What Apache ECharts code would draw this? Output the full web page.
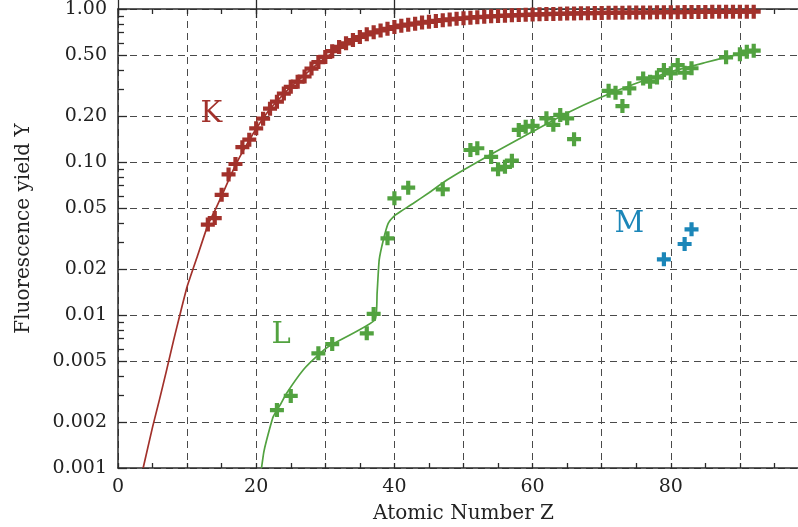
<!DOCTYPE html>
<html>
<head>
<meta charset="utf-8">
<script src="https://cdn.jsdelivr.net/npm/echarts@6/dist/echarts.min.js"></script>
<style>html,body{margin:0;padding:0;background:#fff}#c{width:798px;height:527px}</style>
</head>
<body>
<div id="c"></div>
<script>
// ---- data ----
const kZ = [13,14,15,16,17,18,19,20,21,22,23,24,25,26,27,28,29,30,31,32,33,34,35,36,37,38,39,40,41,42,43,44,45,46,47,48,49,50,51,52,53,54,55,56,57,58,59,60,61,62,63,64,65,66,67,68,69,70,71,72,73,74,75,76,77,78,79,80,81,82,83,84,85,86,87,88,89,90,91,92];
const kY = [0.039,0.043,0.061,0.083,0.097,0.125,0.140,0.166,0.192,0.223,0.248,0.280,0.310,0.335,0.362,0.408,0.450,0.486,0.530,0.565,0.597,0.627,0.656,0.683,0.704,0.724,0.742,0.762,0.778,0.790,0.802,0.815,0.825,0.836,0.845,0.855,0.863,0.870,0.877,0.884,0.890,0.895,0.900,0.905,0.909,0.913,0.916,0.920,0.923,0.926,0.929,0.931,0.933,0.935,0.937,0.939,0.941,0.942,0.944,0.945,0.946,0.947,0.948,0.949,0.950,0.951,0.952,0.953,0.954,0.955,0.956,0.957,0.957,0.958,0.958,0.959,0.959,0.960,0.960,0.961];
const kLineZ = [3.64,5,6,7,8.07,9,10,11.5,13,14,15,16,17,18,20,22,25,30,35,40,45,50,60,70,80,92];
const kLineY = [0.001,0.00185,0.0028,0.0043,0.0069,0.0102,0.0153,0.0243,0.0387,0.048,0.060,0.076,0.095,0.116,0.165,0.222,0.31,0.48,0.645,0.76,0.825,0.87,0.92,0.944,0.955,0.962];

const lZ = [23,25,29,31,36,37,39,40,42,47,51,52,54,55,56,57,58,59,60,62,63,64,65,66,71,72,73,74,76,77,78,79,80,81,82,83,88,90,91,92];
const lY = [0.00239,0.00296,0.00562,0.00646,0.00759,0.01016,0.0317,0.0579,0.0679,0.0663,0.1198,0.123,0.108,0.0896,0.093,0.102,0.162,0.170,0.172,0.193,0.175,0.203,0.193,0.141,0.292,0.284,0.232,0.303,0.352,0.335,0.357,0.399,0.38,0.43,0.383,0.41,0.483,0.506,0.526,0.534];
const lLineZ = [20.77,21.1,21.5,22.45,23.5,24.4,26.8,29.0,30.7,37.2,37.5,37.8,38.4,39.1,40.0,41,42.7,45,47.6,50,53.8,60,65,70,75,80,85,88,92.4];
const lLineY = [0.001,0.00127,0.00152,0.00216,0.0026,0.00308,0.00437,0.00548,0.00631,0.0093,0.014,0.0229,0.0309,0.0397,0.0445,0.0478,0.0535,0.063,0.0762,0.0887,0.111,0.158,0.209,0.266,0.327,0.389,0.447,0.484,0.54];

const mZ = [79,82,83];
const mY = [0.0231,0.0291,0.0363];

const yTicks = [0.001,0.002,0.005,0.01,0.02,0.05,0.1,0.2,0.5,1.0];
const yTickLabels = ['0.001','0.002','0.005','0.01','0.02','0.05','0.10','0.20','0.50','1.00'];
const yMinorTicks = [0.003,0.004,0.006,0.007,0.008,0.009,0.03,0.04,0.06,0.07,0.08,0.09,0.3,0.4,0.6,0.7,0.8,0.9];
const xLabelValues = [0,20,40,60,80];

const curveLabels = [
  {text:'K', z:13.5, y:0.203, color:'#A2312B'},
  {text:'L', z:23.6, y:0.0073, color:'#52A240'},
  {text:'M', z:74.0, y:0.0393, color:'#1B86B8'}
];

// ---- helpers ----
const lg = v => Math.log10(v);
const pts = (zs, ys) => zs.map((z,i)=>[z, lg(ys[i])]);
const PLUS = 'path://M35,0H65V35H100V65H65V100H35V65H0V35H35Z';
const FONT = 'DejaVu Serif';
const AX = '#2a2a2a';
const GRIDC = '#4a4a4a';
const KC = '#A2312B', LC = '#52A240', MC = '#1B86B8';

const chart = echarts.init(document.getElementById('c'), null, {renderer:'canvas'});

function xAx(pos, interval, tickLen, opts) {
  return Object.assign({
    type:'value', min:0, max:100, interval:interval, position:pos, gridIndex:0,
    axisLine:{show:true, onZero:false, lineStyle:{color:AX, width:1.5}},
    axisTick:{show:true, inside:true, length:tickLen, lineStyle:{color:AX, width:1.3}},
    axisLabel:{show:false},
    splitLine:{show:false}
  }, opts||{});
}

const option = {
  animation:false,
  backgroundColor:'#fff',
  grid:{left:118, right:-11, top:9, bottom:59, containLabel:false, outerBoundsMode:'none'},
  xAxis:[
    xAx('bottom', 10, 5, {
      minorTick:{show:true, splitNumber:2, length:5, lineStyle:{color:AX, width:1.3}},
      splitLine:{show:true, lineStyle:{color:GRIDC, width:1, type:[7,5]}},
      axisLabel:{show:true, margin:10, fontFamily:FONT, fontSize:19, color:'#222',
        formatter:v => xLabelValues.indexOf(v) >= 0 ? String(v) : ''},
      name:'Atomic Number Z', nameLocation:'middle', nameGap:36,
      nameTextStyle:{fontFamily:FONT, fontSize:20, color:'#222'}
    }),
    xAx('bottom', 20, 9, {axisLine:{show:false}}),
    xAx('top', 10, 5, {
      minorTick:{show:true, splitNumber:2, length:5, lineStyle:{color:AX, width:1.3}}
    }),
    xAx('top', 20, 9, {axisLine:{show:false}})
  ],
  yAxis:[
    {
      type:'value', min:-3, max:0, position:'left',
      axisLine:{show:true, onZero:false, lineStyle:{color:AX, width:1.5}},
      axisTick:{show:true, inside:true, length:9, customValues:yTicks.map(lg), lineStyle:{color:AX, width:1.3}},
      axisLabel:{show:true, margin:11, fontFamily:FONT, fontSize:19, color:'#222',
        customValues:yTicks.map(lg),
        formatter:v => {
          let best = 0, bd = 1e9;
          yTicks.forEach((t,i)=>{ const d = Math.abs(lg(t)-v); if (d<bd){bd=d;best=i;} });
          return yTickLabels[best];
        }},
      splitLine:{show:true, lineStyle:{color:GRIDC, width:1, type:[7,5]}},
      name:'Fluorescence yield Y', nameLocation:'middle', nameGap:84,
      nameTextStyle:{fontFamily:FONT, fontSize:20, color:'#222', padding:[0,0,0,20]}
    },
    {
      type:'value', min:-3, max:0, position:'left', offset:0,
      axisLine:{show:false},
      axisTick:{show:true, inside:true, length:6, customValues:yMinorTicks.map(lg), lineStyle:{color:AX, width:1.3}},
      axisLabel:{show:false},
      splitLine:{show:false}
    }
  ],
  series:[
    {type:'line', name:'K fit', data:pts(kLineZ,kLineY), showSymbol:false, smooth:0.15,
     lineStyle:{color:KC, width:1.7}, z:2, silent:true,
     markPoint:{symbol:'circle', symbolSize:0, silent:true,
       data:curveLabels.map(c=>({coord:[c.z, lg(c.y)], label:{show:true, formatter:c.text, color:c.color, fontFamily:FONT, fontSize:29, position:'inside'}}))}},
    {type:'line', name:'L fit', data:pts(lLineZ,lLineY), showSymbol:false, smooth:0.15,
     lineStyle:{color:LC, width:1.7}, z:2, silent:true},
    {type:'scatter', name:'K', data:pts(kZ,kY), symbol:PLUS, symbolSize:14, itemStyle:{color:KC, opacity:1}, z:3},
    {type:'scatter', name:'L', data:pts(lZ,lY), symbol:PLUS, symbolSize:14, itemStyle:{color:LC, opacity:1}, z:3},
    {type:'scatter', name:'M', data:pts(mZ,mY), symbol:PLUS, symbolSize:14, itemStyle:{color:MC, opacity:1}, z:3}
  ]
};
chart.setOption(option);
</script>
</body>
</html>
